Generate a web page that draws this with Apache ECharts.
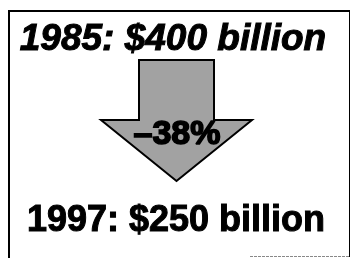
<!DOCTYPE html>
<html>
<head>
<meta charset="utf-8">
<script src="https://cdn.jsdelivr.net/npm/echarts@6/dist/echarts.min.js"></script>
<style>
html,body{margin:0;padding:0;background:#fff;}
#c{width:352px;height:258px;}
</style>
</head>
<body>
<div id="c"></div>
<script>
// Data
var years = ['1985', '1997'];
var values = [400, 250];          // $ billion
var unit = 'billion';
var changePct = [-38];            // percent change shown on the arrow

var labels = years.map(function (y, i) { return y + ': $' + values[i] + ' ' + unit; });
var changeLabel = '\u2013' + Math.abs(changePct[0]) + '%';

var chart = echarts.init(document.getElementById('c'), null, {renderer: 'canvas'});
var font = '"Liberation Sans", Arial, Helvetica, sans-serif';

chart.setOption({
  backgroundColor: '#fff',
  graphic: [
    // frame
    {type: 'line', shape: {x1: 9, y1: 10, x2: 9, y2: 258}, style: {stroke: '#000', lineWidth: 2}},
    {type: 'line', shape: {x1: 8, y1: 11, x2: 350, y2: 11}, style: {stroke: '#000', lineWidth: 2}},
    {type: 'line', shape: {x1: 349.5, y1: 10, x2: 349.5, y2: 257}, style: {stroke: '#000', lineWidth: 1}},
    {type: 'line', shape: {x1: 250, y1: 256.5, x2: 350, y2: 256.5}, style: {stroke: '#888', lineWidth: 1, lineDash: [3, 1]}},
    // arrow
    {type: 'polygon', z: 1,
     shape: {points: [[139, 60], [214, 60], [214, 120], [252, 120], [176.5, 181], [101, 120], [139, 120]]},
     style: {fill: '#a2a2a2', stroke: '#000', lineWidth: 2, lineJoin: 'miter'}},
    // texts
    {type: 'text', x: 173, y: 40, z: 10,
     style: {text: labels[0], font: 'italic bold 37px ' + font, fill: '#000', stroke: '#000', lineWidth: 1, textAlign: 'center', textVerticalAlign: 'middle'}},
    {type: 'text', x: 177, y: 135, z: 20,
     style: {text: changeLabel, font: 'bold 34px ' + font, fill: '#000', stroke: '#000', lineWidth: 1.6, textAlign: 'center', textVerticalAlign: 'middle'}},
    {type: 'text', x: 176, y: 221, z: 10,
     style: {text: labels[1], font: 'bold 36px ' + font, fill: '#000', stroke: '#000', lineWidth: 1, textAlign: 'center', textVerticalAlign: 'middle'}}
  ]
});
</script>
</body>
</html>
